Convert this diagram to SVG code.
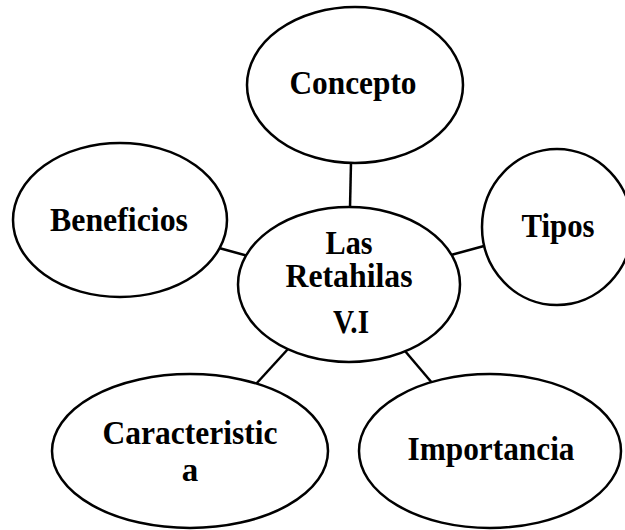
<svg xmlns="http://www.w3.org/2000/svg" width="625" height="530" viewBox="0 0 625 530">
<style>
.n ellipse{fill:#fff;stroke:#000;stroke-width:2.5}
.c line{stroke:#000;stroke-width:2.5}
text{font-family:"Liberation Serif","Times New Roman",serif;font-weight:bold;font-size:33px;text-anchor:middle;fill:#000}
</style>
<rect width="625" height="530" fill="#fff"/>
<g id="connectors" class="c">
<line x1="351" y1="162" x2="350" y2="208"/>
<line x1="219" y1="248" x2="248" y2="256"/>
<line x1="451" y1="255" x2="484" y2="246"/>
<line x1="288" y1="349" x2="256" y2="384"/>
<line x1="405" y1="351" x2="433" y2="384"/>
</g>
<g id="concepto" class="n">
<ellipse cx="355" cy="85" rx="108" ry="78"/>
<text x="353" y="94" textLength="127" lengthAdjust="spacingAndGlyphs">Concepto</text>
</g>
<g id="beneficios" class="n">
<ellipse cx="120" cy="220" rx="107" ry="77"/>
<text x="119" y="231" textLength="138" lengthAdjust="spacingAndGlyphs">Beneficios</text>
</g>
<g id="tipos" class="n">
<ellipse cx="557" cy="227" rx="75" ry="78"/>
<text x="558" y="237" textLength="73" lengthAdjust="spacingAndGlyphs">Tipos</text>
</g>
<g id="centro" class="n">
<ellipse cx="349" cy="284.5" rx="111" ry="77.5"/>
<text x="349" y="254" textLength="47" lengthAdjust="spacingAndGlyphs">Las</text>
<text x="349" y="287" textLength="127" lengthAdjust="spacingAndGlyphs">Retahilas</text>
<text x="351" y="333" textLength="36" lengthAdjust="spacingAndGlyphs">V.I</text>
</g>
<g id="caracteristica" class="n">
<ellipse cx="190" cy="451" rx="138" ry="77"/>
<text x="190" y="444" textLength="175" lengthAdjust="spacingAndGlyphs">Caracteristic</text>
<text x="190" y="481">a</text>
</g>
<g id="importancia" class="n">
<ellipse cx="490" cy="451" rx="131" ry="77"/>
<text x="491" y="460" textLength="167" lengthAdjust="spacingAndGlyphs">Importancia</text>
</g>
</svg>
